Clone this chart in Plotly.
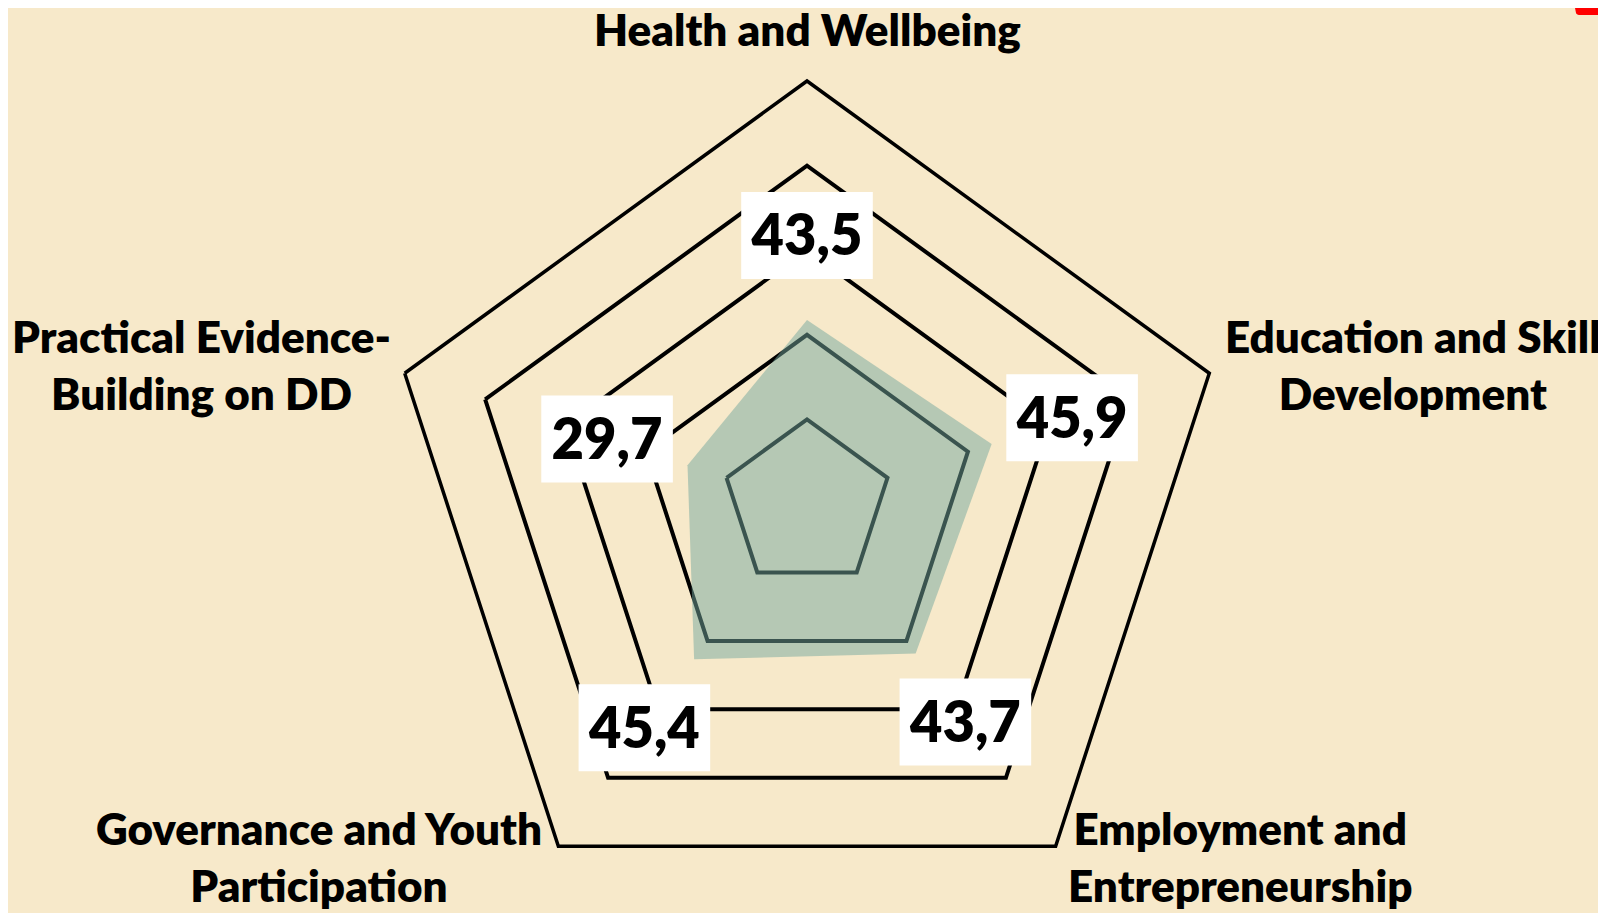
import plotly.graph_objects as go

# ---- data ----
categories = [
    "Health and Wellbeing",
    "Education and Skill Development",
    "Employment and Entrepreneurship",
    "Governance and Youth Participation",
    "Practical Evidence-Building on DD",
]
tick_labels = [
    "Health and Wellbeing",
    "Education and Skill<br>Development",
    "Employment and<br>Entrepreneurship",
    "Governance and Youth<br>Participation",
    "Practical Evidence-<br>Building on DD",
]
values = [43.5, 45.9, 43.7, 45.4, 29.7]
value_labels = ["43,5", "45,9", "43,7", "45,4", "29,7"]
label_offset = 20
grid_levels = [20, 40, 60, 80, 100]

# ---- style / layout constants ----
W, H = 1598, 925                  # page body has an 8px margin; bottom overflows slightly
BG = "#F7E9CA"
FONT = "Lato"
WEIGHT = 800
CX, CY, R = 799, 496, 423         # pixel centre / radius of the polar area (figure coords)
TXT_DROP = 6                      # value text sits slightly low inside its white box

# positions (pixel centres, figure coords from top-left) of the category labels
tick_pos = [(799, 21), (1405, 356), (1232, 848), (311, 848), (193, 356)]

fig = go.Figure()

# filled data polygon (semi-transparent so gridlines show through)
fig.add_trace(go.Scatterpolar(
    r=values + values[:1],
    theta=categories + categories[:1],
    mode="lines",
    fill="toself",
    fillcolor="rgba(115,168,158,0.5)",
    line=dict(color="rgba(0,0,0,0)", width=0),
    hoverinfo="skip",
    showlegend=False,
    subplot="polar",
))

# value labels in white boxes, placed 20 units outside each data point
# (drawn on an overlaid invisible polar shifted down a few px; boxes lifted back by standoff)
fig.add_trace(go.Scatterpolar(
    r=[v + label_offset for v in values],
    theta=categories,
    mode="markers+text",
    marker=dict(symbol="line-ew", size=94, angle=180, standoff=TXT_DROP,
                line=dict(width=87, color="white"), color="white"),
    text=value_labels,
    textposition="middle center",
    textfont=dict(family=FONT, size=56, color="black", weight=WEIGHT),
    hoverinfo="skip",
    showlegend=False,
    subplot="polar2",
))

annotations = []
for lab, (px, py) in zip(tick_labels, tick_pos):
    annotations.append(dict(
        text=lab, x=px / W, y=1 - py / H, xref="paper", yref="paper",
        xanchor="center", yanchor="middle", showarrow=False, align="center",
        font=dict(family=FONT, size=44, color="black", weight=WEIGHT),
    ))
# red glyph cut at the top-right corner
annotations.append(dict(
    text="4", x=1564 / W, y=1 - 36 / H, xref="paper", yref="paper",
    xanchor="left", yanchor="bottom", showarrow=False,
    font=dict(family=FONT, size=72, color="red", weight=WEIGHT),
))

dom_x = [(CX - R) / W, (CX + R) / W]
fig.update_layout(
    width=W, height=H,
    margin=dict(l=0, r=0, t=0, b=0),
    paper_bgcolor=BG,
    plot_bgcolor=BG,
    showlegend=False,
    annotations=annotations,
    polar=dict(
        domain=dict(x=dom_x, y=[(H - CY - R) / H, (H - CY + R) / H]),
        bgcolor=BG,
        gridshape="linear",
        radialaxis=dict(
            range=[0, 100], tickvals=grid_levels, showticklabels=False, ticks="",
            showline=False, gridcolor="black", gridwidth=3.5,
        ),
        angularaxis=dict(
            rotation=90, direction="clockwise", showgrid=False, showticklabels=False,
            ticks="", showline=True, linecolor="black", linewidth=3.5,
            categoryorder="array", categoryarray=categories,
        ),
    ),
    polar2=dict(
        domain=dict(x=dom_x, y=[(H - CY - TXT_DROP - R) / H, (H - CY - TXT_DROP + R) / H]),
        bgcolor="rgba(0,0,0,0)",
        gridshape="linear",
        radialaxis=dict(range=[0, 100], visible=False),
        angularaxis=dict(
            rotation=90, direction="clockwise", visible=False,
            categoryorder="array", categoryarray=categories,
        ),
    ),
)

fig.write_html("out.html")
